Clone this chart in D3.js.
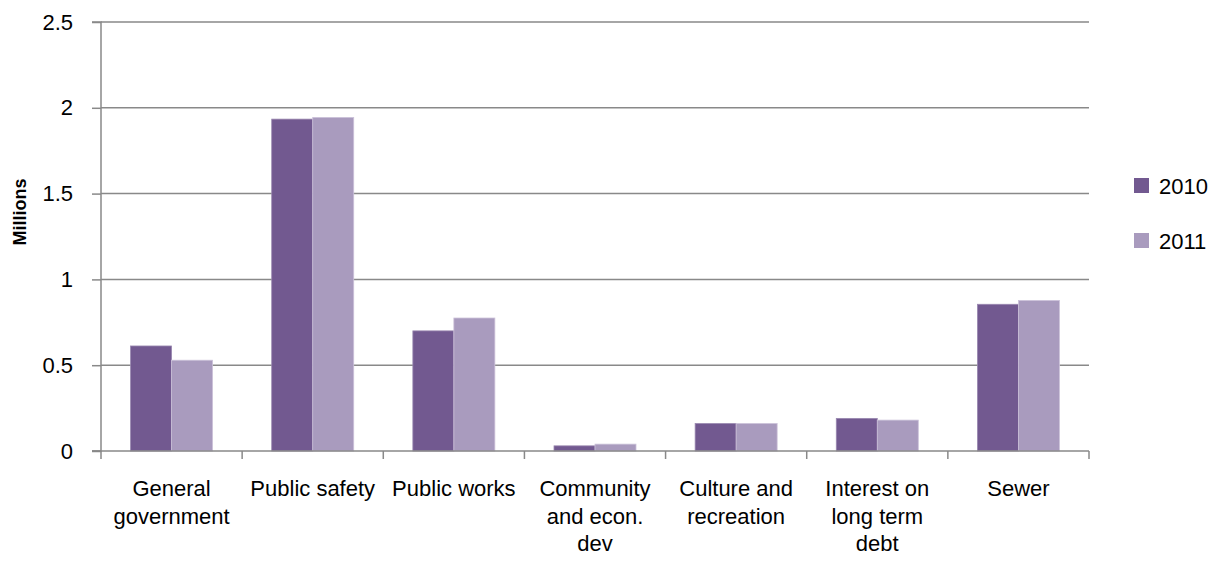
<!DOCTYPE html>
<html><head><meta charset="utf-8">
<script src="https://cdn.jsdelivr.net/npm/d3@7"></script>
<style>body{margin:0;background:#fff}svg{display:block}</style>
</head><body>
<svg id="c" width="1230" height="561"></svg>
<script>
const categories = [
  ["General","government"],
  ["Public safety"],
  ["Public works"],
  ["Community","and econ.","dev"],
  ["Culture and","recreation"],
  ["Interest on","long term","debt"],
  ["Sewer"]
];
const series2010 = [0.612, 1.934, 0.70, 0.03, 0.16, 0.19, 0.855];
const series2011 = [0.529, 1.944, 0.775, 0.04, 0.16, 0.18, 0.877];
const seriesNames = ["2010","2011"];
const yTicks = [0, 0.5, 1, 1.5, 2, 2.5];
const colors = ["#725990","#A99BBE"];

(function(){
const svg = d3.select("#c");
const font = "'Liberation Sans', Arial, sans-serif";
const mLeft = 101, mRight = 1089, mTop = 22, mBottom = 451;

const x = d3.scaleBand().domain(d3.range(categories.length)).range([mLeft, mRight]).paddingInner(0).paddingOuter(0);
const y = d3.scaleLinear().domain([0, 2.5]).range([mBottom, mTop]);
const barW = 41;

svg.append("g").selectAll("line").data(yTicks.filter(d=>d>0)).join("line")
  .attr("x1", mLeft).attr("x2", mRight)
  .attr("y1", d=>y(d)).attr("y2", d=>y(d))
  .attr("stroke", "#898989").attr("stroke-width", 1.5);

const data = categories.map((c,i)=>[series2010[i], series2011[i]]);
const g = svg.append("g");
data.forEach((vals,i)=>{
  vals.forEach((v,s)=>{
    const cx = x(i) + x.bandwidth()/2;
    g.append("rect")
      .attr("x", cx - barW + s*barW)
      .attr("y", y(v))
      .attr("width", barW)
      .attr("height", y(0) - y(v))
      .attr("fill", colors[s])
      .attr("stroke", s===0 ? "#9a88b0" : "#cbc1d9").attr("stroke-width", 0.8);
  });
});

const yAxis = d3.axisLeft(y).tickValues(yTicks).tickSize(9).tickPadding(19).tickFormat(d=>d3.format("")(d));
const ya = svg.append("g").attr("transform", `translate(${mLeft},0)`).call(yAxis);
ya.select(".domain").attr("stroke", "#898989").attr("stroke-width", 1.5).attr("d", `M-9,${mTop}H0V${mBottom}H-9`);
ya.selectAll(".tick line").attr("stroke", "#898989").attr("stroke-width", 1.5);
ya.selectAll(".tick text").attr("font-family", font).attr("font-size", 22).attr("fill", "#000");

svg.append("line").attr("x1", mLeft-9).attr("x2", mRight).attr("y1", mBottom).attr("y2", mBottom)
  .attr("stroke", "#898989").attr("stroke-width", 1.5);
const bounds = d3.range(categories.length+1).map(i => i < categories.length ? x(i) : mRight);
svg.append("g").selectAll("line").data(bounds).join("line")
  .attr("x1", d=>d).attr("x2", d=>d).attr("y1", mBottom).attr("y2", mBottom+8)
  .attr("stroke", "#898989").attr("stroke-width", 1.5);

categories.forEach((lines,i)=>{
  const t = svg.append("text")
    .attr("x", x(i) + x.bandwidth()/2)
    .attr("y", 496)
    .attr("text-anchor", "middle")
    .attr("font-family", font).attr("font-size", 22).attr("fill", "#000");
  lines.forEach((l,j)=>{
    t.append("tspan").attr("x", x(i) + x.bandwidth()/2).attr("dy", j===0?0:27.5).text(l);
  });
});

svg.append("text").attr("transform", "translate(26,212) rotate(-90)")
  .attr("text-anchor", "middle").attr("font-family", font).attr("font-size", 18)
  .attr("font-weight", "bold").text("Millions");

seriesNames.forEach((n,s)=>{
  const ly = 178 + s*55;
  svg.append("rect").attr("x", 1134).attr("y", ly).attr("width", 15).attr("height", 15).attr("fill", colors[s]);
  svg.append("text").attr("x", 1159).attr("y", ly+16).attr("font-family", font).attr("font-size", 22).text(n);
});
})();
</script>
</body></html>
